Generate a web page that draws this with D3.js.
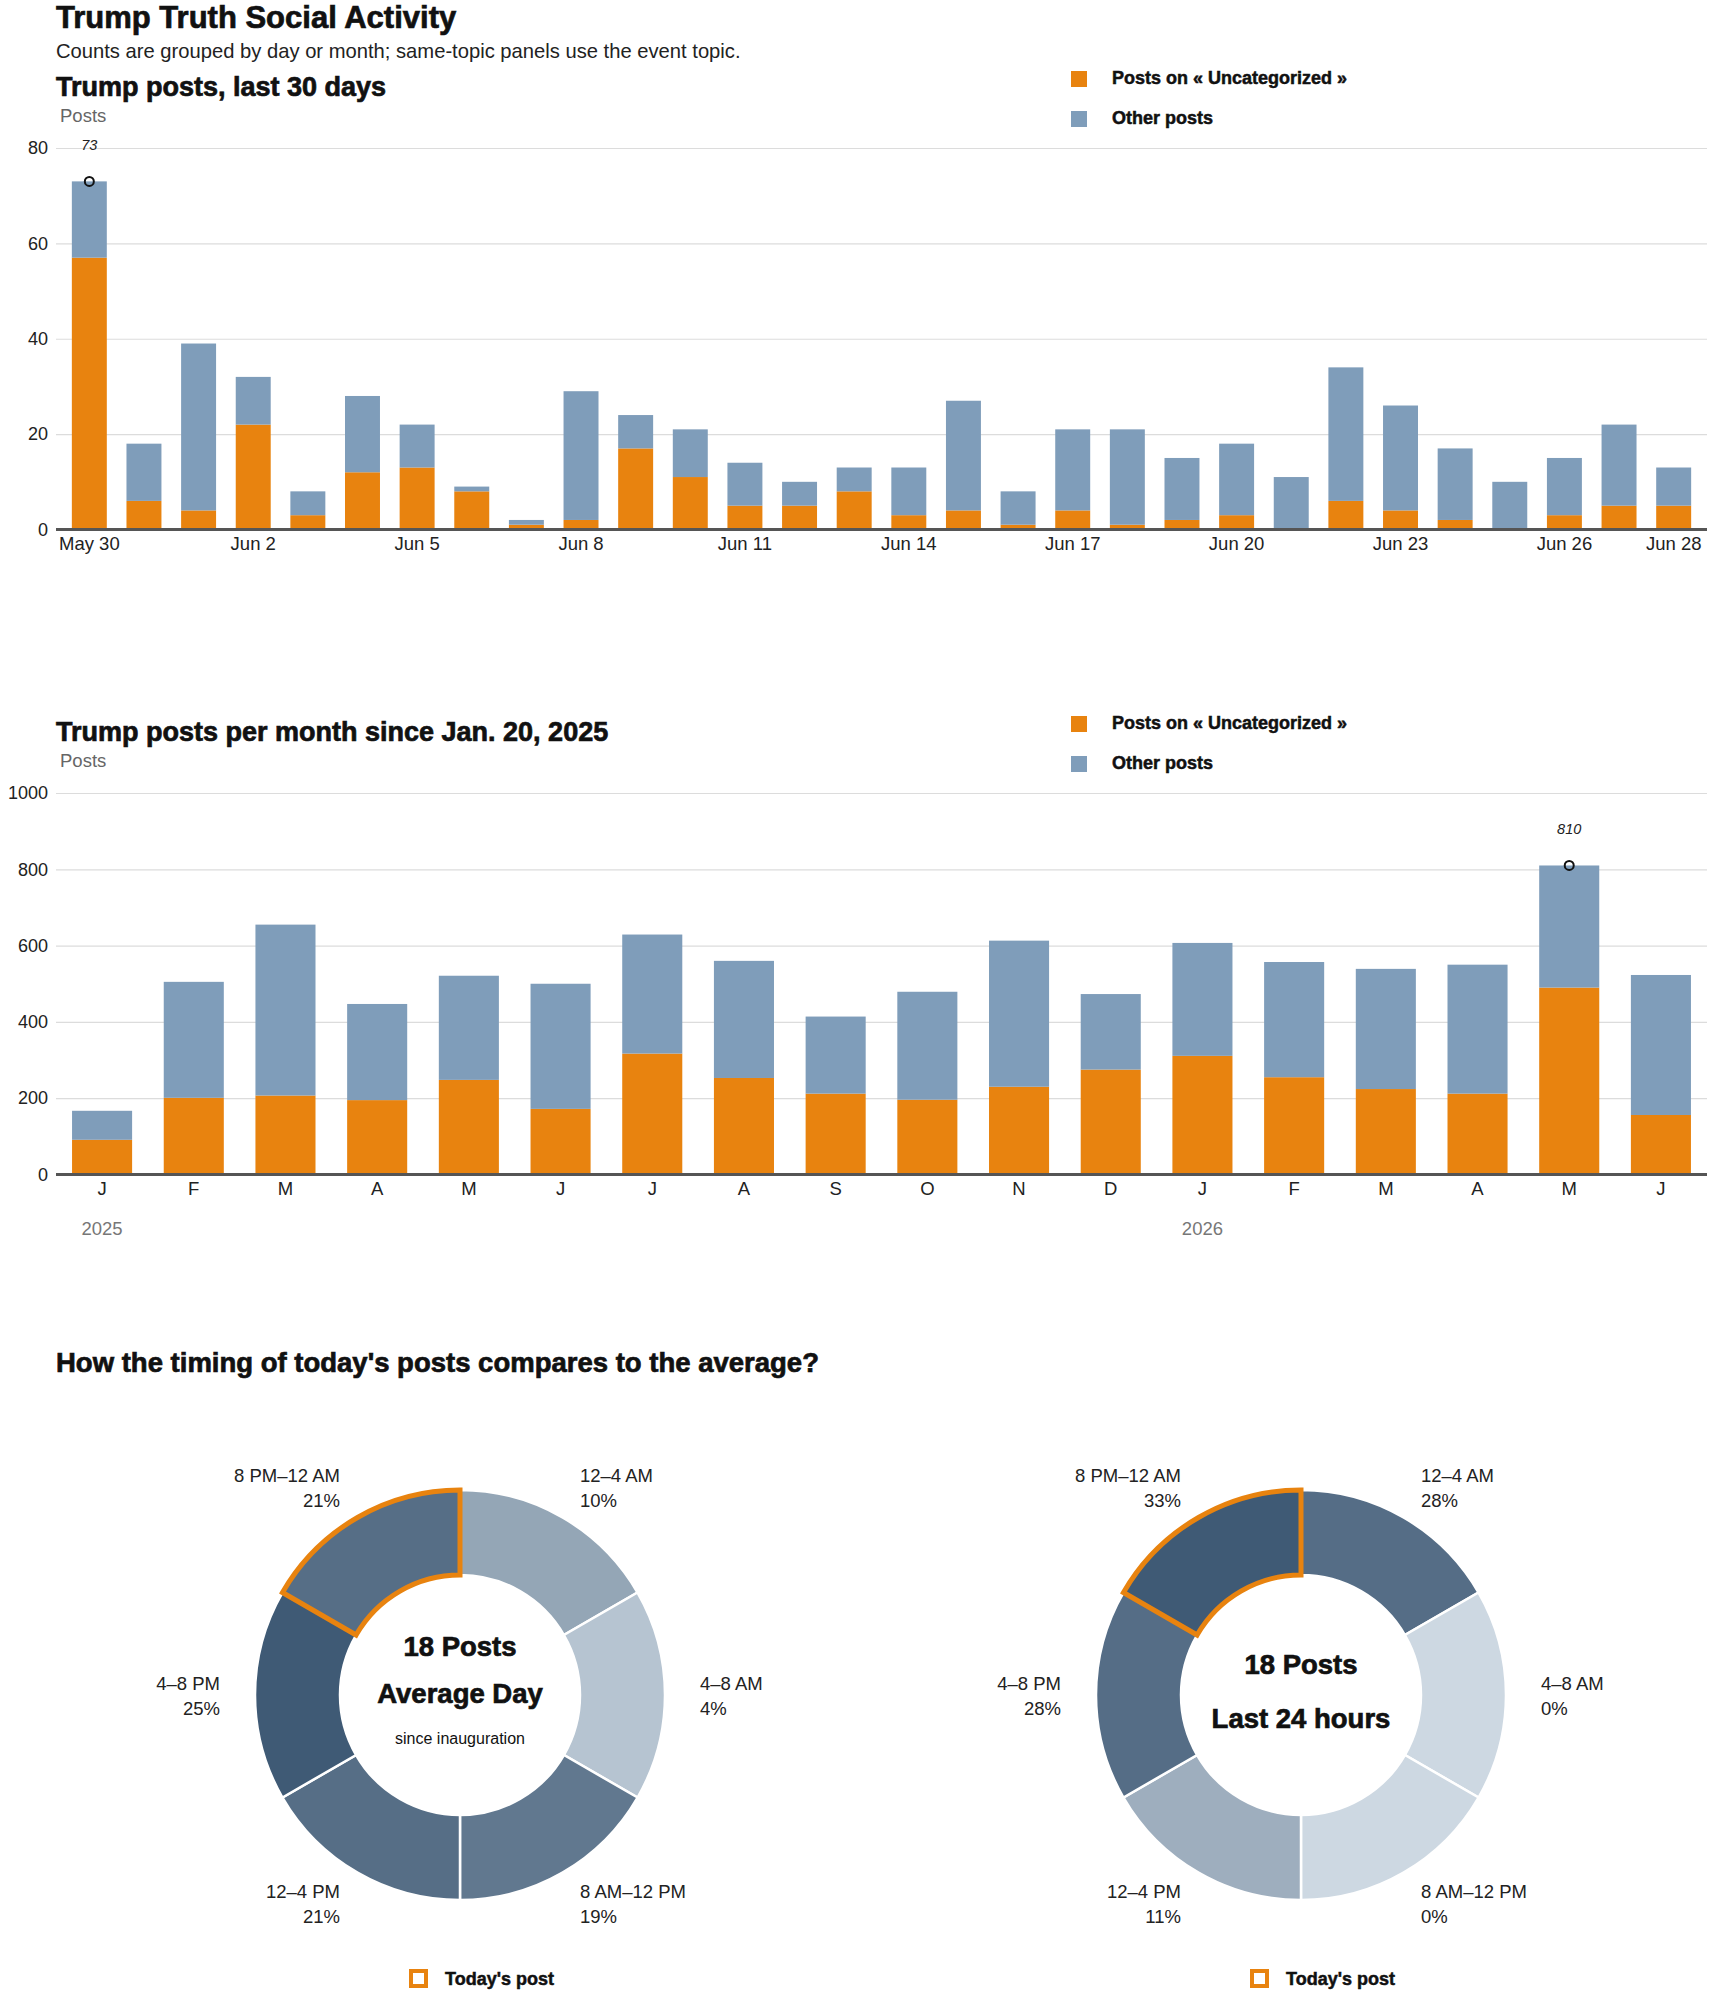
<!DOCTYPE html>
<html>
<head>
<meta charset="utf-8">
<script src="https://cdn.jsdelivr.net/npm/d3@7"></script>
<style>
  body { margin: 0; background: #fff; }
  text { font-family: "Liberation Sans", Arial, sans-serif; }
  .heavy { font-weight: bold; fill: #111; stroke: #111; stroke-width: 0.7px; }
</style>
</head>
<body>
<svg id="chart"></svg>
<script>
// last 30 days
const dayLabels = ["May 30", "May 31", "Jun 1", "Jun 2", "Jun 3", "Jun 4", "Jun 5", "Jun 6", "Jun 7", "Jun 8",
  "Jun 9", "Jun 10", "Jun 11", "Jun 12", "Jun 13", "Jun 14", "Jun 15", "Jun 16", "Jun 17", "Jun 18",
  "Jun 19", "Jun 20", "Jun 21", "Jun 22", "Jun 23", "Jun 24", "Jun 25", "Jun 26", "Jun 27", "Jun 28"];
const dayTopic = [57, 6, 4, 22, 3, 12, 13, 8, 1, 2, 17, 11, 5, 5, 8, 3, 4, 1, 4, 1, 2, 3, 0, 6, 4, 2, 0, 3, 5, 5];
const dayTotal = [73, 18, 39, 32, 8, 28, 22, 9, 2, 29, 24, 21, 14, 10, 13, 13, 27, 8, 21, 21, 15, 18, 11, 34, 26, 17, 10, 15, 22, 13];
const dayTicks = ["May 30", "Jun 2", "Jun 5", "Jun 8", "Jun 11", "Jun 14", "Jun 17", "Jun 20", "Jun 23", "Jun 26", "Jun 28"];
const dayYTicks = [0, 20, 40, 60, 80];

// per month since inauguration
const monthKeys = ["2025-01", "2025-02", "2025-03", "2025-04", "2025-05", "2025-06", "2025-07", "2025-08", "2025-09",
  "2025-10", "2025-11", "2025-12", "2026-01", "2026-02", "2026-03", "2026-04", "2026-05", "2026-06"];
const monthLetters = ["J", "F", "M", "A", "M", "J", "J", "A", "S", "O", "N", "D", "J", "F", "M", "A", "M", "J"];
const monthTopic = [91, 201, 207, 195, 248, 172, 317, 253, 212, 196, 230, 275, 311, 255, 224, 212, 490, 156];
const monthTotal = [167, 505, 655, 447, 521, 500, 629, 560, 414, 479, 613, 473, 607, 557, 539, 550, 810, 523];
const monthYTicks = [0, 200, 400, 600, 800, 1000];
const yearLabels = [{ key: "2025-01", text: "2025" }, { key: "2026-01", text: "2026" }];

// timing donuts
const slots = ["12–4 AM", "4–8 AM", "8 AM–12 PM", "12–4 PM", "4–8 PM", "8 PM–12 AM"];
const avgShare = [10, 4, 19, 21, 25, 21];
const todayShare = [28, 0, 0, 11, 28, 33];
const currentSlot = "8 PM–12 AM";

const ORANGE = "#e8830f";
const BLUE = "#7f9dba";
const W = 1710, H = 1993;
const left = 56, right = 1707;

const svg = d3.select("#chart").attr("width", W).attr("height", H);

svg.append("text").attr("class", "heavy").attr("x", 56).attr("y", 27.5)
  .style("font-size", "31px").text("Trump Truth Social Activity");
svg.append("text").attr("x", 56).attr("y", 58).style("font-size", "20.2px").attr("fill", "#222")
  .text("Counts are grouped by day or month; same-topic panels use the event topic.");

const drawPanel = (cfg) => {
  const g = svg.append("g").attr("transform", `translate(0,${cfg.top})`);
  const plotTop = 52, plotBottom = 433.5;

  g.append("text").attr("class", "heavy").attr("x", 56).attr("y", 0)
    .style("font-size", "27px").text(cfg.title);
  g.append("text").attr("x", 60).attr("y", 26).style("font-size", "18.5px").attr("fill", "#666").text("Posts");

  // legend
  const legend = g.append("g").attr("transform", "translate(1071,-25)");
  [["Posts on « Uncategorized »", ORANGE], ["Other posts", BLUE]].forEach(([label, c], i) => {
    legend.append("rect").attr("y", i * 40).attr("width", 16).attr("height", 16).attr("fill", c);
    legend.append("text").attr("class", "heavy").attr("x", 41).attr("y", i * 40 + 13)
      .style("font-size", "18px").style("stroke-width", "0.5px").text(label);
  });

  const rows = cfg.keys.map((k, i) => ({ key: k, topic: cfg.topic[i], other: cfg.total[i] - cfg.topic[i] }));
  const x = d3.scaleBand().domain(cfg.keys).range([left, right])
    .paddingInner(cfg.padIn).paddingOuter(cfg.padOut);
  const y = d3.scaleLinear().domain([0, cfg.yMax]).range([plotBottom, plotTop]);

  const yAxis = g.append("g").attr("transform", `translate(${left},0)`)
    .call(d3.axisLeft(y).tickValues(cfg.yTicks).tickSize(-(right - left)).tickPadding(8).tickFormat(d3.format("d")));
  yAxis.select(".domain").remove();
  yAxis.selectAll("line").attr("stroke", "#dcdcdc").attr("stroke-width", 1.2);
  yAxis.selectAll("text").style("font-size", "18px").attr("fill", "#222");

  const series = d3.stack().keys(["topic", "other"])(rows);
  g.selectAll(".layer").data(series).enter().append("g")
      .attr("fill", d => d.key === "topic" ? ORANGE : BLUE)
    .selectAll("rect").data(d => d).enter().append("rect")
      .attr("x", d => x(d.data.key))
      .attr("width", x.bandwidth())
      .attr("y", d => y(d[1]))
      .attr("height", d => y(d[0]) - y(d[1]));

  const xAxis = g.append("g").attr("transform", `translate(0,${y(0)})`)
    .call(d3.axisBottom(x).tickValues(cfg.xTicks).tickSize(0).tickPadding(7).tickFormat(cfg.tickFormat));
  xAxis.select(".domain").remove();
  xAxis.selectAll("text").style("font-size", "18.5px").attr("fill", "#222");

  g.append("line").attr("x1", left).attr("x2", right).attr("y1", y(0)).attr("y2", y(0))
    .attr("stroke", "#555").attr("stroke-width", 3);

  if (cfg.years) {
    g.selectAll(".year").data(cfg.years).enter().append("text")
      .attr("x", d => x(d.key) + x.bandwidth() / 2).attr("y", y(0) + 60)
      .attr("text-anchor", "middle").style("font-size", "18.5px").attr("fill", "#777")
      .text(d => d.text);
  }

  // peak marker
  const iMax = d3.maxIndex(cfg.total);
  const px = x(cfg.keys[iMax]) + x.bandwidth() / 2;
  g.append("circle").attr("cx", px).attr("cy", y(cfg.total[iMax])).attr("r", 4.5)
    .attr("fill", "none").attr("stroke", "#111").attr("stroke-width", 2);
  g.append("text").attr("x", px).attr("y", y(cfg.total[iMax]) - 31).attr("text-anchor", "middle")
    .style("font-size", "14.5px").style("font-style", "italic").attr("fill", "#222")
    .text(cfg.total[iMax]);
};

drawPanel({
  top: 96, title: "Trump posts, last 30 days",
  keys: dayLabels, topic: dayTopic, total: dayTotal,
  yMax: 80, yTicks: dayYTicks, xTicks: dayTicks, tickFormat: d => d,
  padIn: 0.36, padOut: 0.29
});

drawPanel({
  top: 741, title: "Trump posts per month since Jan. 20, 2025",
  keys: monthKeys, topic: monthTopic, total: monthTotal,
  yMax: 1000, yTicks: monthYTicks, xTicks: monthKeys,
  tickFormat: d => monthLetters[monthKeys.indexOf(d)],
  padIn: 0.345, padOut: 0.175, years: yearLabels
});

// donuts
svg.append("text").attr("class", "heavy").attr("x", 56).attr("y", 1372)
  .style("font-size", "27.5px").text("How the timing of today's posts compares to the average?");

const rIn = 120, rOut = 205, rLabel = 240;
const arc = d3.arc().innerRadius(rIn).outerRadius(rOut);
const pie = d3.pie().value(1).sort(null);

const drawDonut = (cx, shares, centerLines) => {
  const g = svg.append("g").attr("transform", `translate(${cx},1695)`);
  const color = d3.scaleLinear().domain([0, d3.max(shares)]).range(["#cdd8e2", "#3f5a75"]);
  const slices = pie(slots.map((s, i) => ({ slot: s, share: shares[i] })));

  g.selectAll(".slice").data(slices).enter().append("path")
    .attr("d", arc).attr("fill", d => color(d.data.share))
    .attr("stroke", "#fff").attr("stroke-width", 2.5);

  g.selectAll(".hl").data(slices.filter(d => d.data.slot === currentSlot)).enter().append("path")
    .attr("d", arc).attr("fill", "none").attr("stroke", ORANGE).attr("stroke-width", 5);

  slices.forEach(d => {
    const a = (d.startAngle + d.endAngle) / 2;
    const lx = rLabel * Math.sin(a), ly = -rLabel * Math.cos(a);
    const anchor = lx > 1 ? "start" : "end";
    const t = g.append("text").attr("text-anchor", anchor).style("font-size", "18.5px").attr("fill", "#222");
    t.append("tspan").attr("x", lx).attr("y", ly - 5).text(d.data.slot);
    t.append("tspan").attr("x", lx).attr("y", ly + 20).text(d.data.share + "%");
  });

  centerLines.forEach(l => {
    g.append("text").attr("class", l.bold ? "heavy" : null).attr("text-anchor", "middle")
      .attr("y", l.y).style("font-size", l.size + "px").attr("fill", "#111").text(l.text);
  });

  const lg = g.append("g").attr("transform", "translate(-49,276)");
  lg.append("rect").attr("width", 15).attr("height", 15).attr("fill", "none")
    .attr("stroke", ORANGE).attr("stroke-width", 4);
  lg.append("text").attr("class", "heavy").attr("x", 34).attr("y", 14).style("font-size", "18px")
    .style("stroke-width", "0.5px").text("Today's post");
};

drawDonut(460, avgShare, [
  { text: "18 Posts", y: -39, size: 27.5, bold: true },
  { text: "Average Day", y: 8, size: 27.5, bold: true },
  { text: "since inauguration", y: 49, size: 16 }
]);
drawDonut(1301, todayShare, [
  { text: "18 Posts", y: -21, size: 27.5, bold: true },
  { text: "Last 24 hours", y: 33, size: 27.5, bold: true }
]);
</script>
</body>
</html>
